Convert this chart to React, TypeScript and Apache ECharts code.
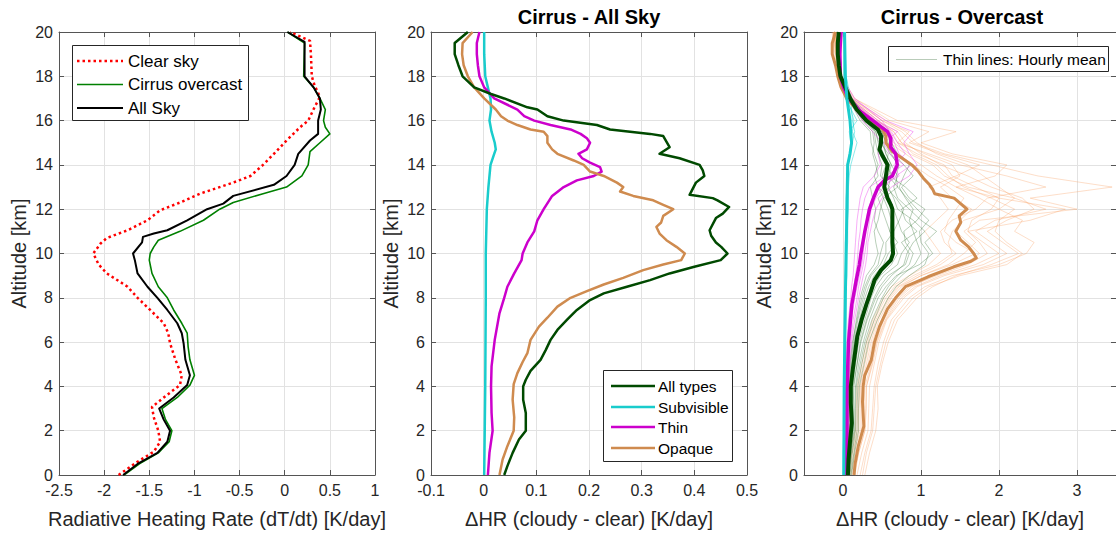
import React, { useEffect, useRef } from "react";
import * as echarts from "echarts";

// ---------- Panel 1: radiative heating rate ----------
const ALT_CLEAR = [0,0.6,1.05,1.5,2,2.6,3.07,3.5,4.06,4.5,5.2,5.95,6.4,6.85,7.45,8,8.5,9.1,9.5,10,10.45,10.7,11.05,11.5,11.95,12.3,12.7,13.2,13.5,14,14.5,15.1,15.7,16,16.6,17.07,17.6,18,19,19.6,20];
const HR_CLEAR = [-1.84,-1.63,-1.45,-1.38,-1.40,-1.45,-1.47,-1.34,-1.16,-1.14,-1.21,-1.27,-1.29,-1.34,-1.49,-1.63,-1.74,-1.97,-2.06,-2.12,-2.04,-1.97,-1.74,-1.52,-1.38,-1.16,-0.94,-0.57,-0.38,-0.24,-0.12,0.02,0.17,0.26,0.33,0.39,0.33,0.30,0.29,0.28,0.06];
const ALT_OVC = [0,0.5,1,1.5,2,2.5,3,3.5,4.06,4.5,5.2,5.8,6.4,6.85,7.45,8,8.5,9.1,9.7,10,10.3,10.6,11,11.5,12,12.3,12.7,13,13.5,14,14.6,15,15.4,15.7,16,16.5,17,17.5,18,19.5,20];
const HR_OVC = [-1.78,-1.61,-1.40,-1.28,-1.25,-1.32,-1.36,-1.19,-1.05,-1.00,-1.05,-1.07,-1.08,-1.14,-1.23,-1.30,-1.40,-1.47,-1.50,-1.49,-1.45,-1.40,-1.16,-0.90,-0.72,-0.57,-0.24,0.02,0.19,0.26,0.28,0.39,0.50,0.45,0.43,0.45,0.39,0.32,0.21,0.22,0.03];
const ALT_ALL = [0,0.5,1,1.5,2,2.5,3,3.5,4.06,4.5,5.2,5.95,6.4,6.85,7.45,8,8.5,9.1,9.7,10,10.5,10.75,10.9,11.05,11.5,12,12.25,12.6,13.1,13.5,14,14.5,15.1,15.4,16,16.5,17,17.5,18,19.55,20];
const HR_ALL = [-1.79,-1.63,-1.41,-1.30,-1.27,-1.34,-1.39,-1.23,-1.08,-1.05,-1.10,-1.12,-1.14,-1.19,-1.30,-1.41,-1.52,-1.63,-1.66,-1.68,-1.58,-1.57,-1.45,-1.30,-1.08,-0.86,-0.68,-0.57,-0.12,0.02,0.11,0.15,0.28,0.37,0.37,0.40,0.39,0.32,0.22,0.22,0.03];

// ---------- Panel 2: Cirrus - All Sky ----------
const ALT_AS_ALL = [0,0.4,1,1.6,2,2.8,3.4,4,4.3,4.7,5.2,5.65,6.1,6.55,7,7.45,7.9,8.2,8.5,8.8,9.1,9.4,9.7,10,10.3,10.5,10.8,11.05,11.6,11.8,12.1,12.4,12.5,12.65,13.2,13.5,13.75,14,14.3,14.5,14.8,15.3,15.4,15.6,15.8,16,16.2,16.5,16.6,17,17.2,17.5,18,18.5,19,19.5,20];
const AS_ALL = [0.039,0.045,0.055,0.067,0.080,0.080,0.075,0.075,0.080,0.089,0.108,0.118,0.127,0.140,0.158,0.177,0.202,0.228,0.272,0.316,0.353,0.400,0.450,0.463,0.451,0.441,0.432,0.429,0.441,0.454,0.466,0.444,0.435,0.391,0.403,0.419,0.416,0.410,0.372,0.334,0.353,0.341,0.316,0.240,0.215,0.152,0.121,0.102,0.083,0.039,0.014,-0.018,-0.040,-0.048,-0.055,-0.055,-0.030];
const ALT_AS_SUB = [0,4,8,10,12,13,14,14.5,14.7,15,15.5,16,16.5,17,17.5,18,19,20];
const AS_SUB = [0.001,0.003,0.004,0.004,0.006,0.009,0.013,0.020,0.023,0.021,0.015,0.011,0.014,0.013,0.008,0.003,0.001,0.001];
const ALT_AS_THIN = [0,1,2,2.8,4,4.9,6.1,7.3,8,8.5,9.1,9.7,10,10.5,11,11.5,12,12.6,13,13.3,13.5,13.7,13.9,14.1,14.3,14.5,14.7,15,15.2,15.4,15.6,15.8,16,16.2,16.5,17,17.5,18,18.5,19,19.5,20];
const AS_THIN = [0.008,0.011,0.017,0.015,0.014,0.015,0.021,0.030,0.039,0.045,0.058,0.072,0.074,0.083,0.096,0.102,0.114,0.130,0.152,0.177,0.209,0.224,0.221,0.202,0.187,0.180,0.196,0.202,0.196,0.184,0.165,0.127,0.096,0.077,0.064,0.020,0.001,-0.008,-0.011,-0.013,-0.013,-0.008];
const ALT_AS_OPQ = [0,0.7,1.3,2,2.6,3.4,4.1,4.6,5.1,5.5,6.1,6.7,7.1,7.6,8,8.3,8.6,8.9,9.25,9.5,9.7,10,10.3,10.6,10.9,11.2,11.4,11.7,12,12.2,12.4,12.6,12.8,13,13.2,13.5,13.7,14,14.2,14.5,14.7,15,15.3,15.5,15.6,15.8,16,16.2,16.5,17,17.5,18,18.5,19,19.5,20];
const AS_OPQ = [0.030,0.036,0.045,0.057,0.058,0.055,0.057,0.064,0.074,0.083,0.089,0.105,0.121,0.140,0.165,0.196,0.228,0.265,0.303,0.341,0.375,0.382,0.366,0.347,0.334,0.328,0.337,0.341,0.360,0.341,0.322,0.284,0.259,0.265,0.253,0.228,0.202,0.190,0.171,0.140,0.130,0.121,0.121,0.114,0.089,0.064,0.045,0.033,0.023,0.001,-0.018,-0.030,-0.038,-0.041,-0.040,-0.021];

// ---------- Panel 3: Cirrus - Overcast (means) ----------
const ALT_OC_ALL = [0,0.7,1.6,2.35,3.25,4,4.75,5.5,6.25,7,7.7,8.35,8.8,9.25,9.7,10,10.5,11,12,12.2,12.5,13,13.5,14,14.4,14.7,15,15.3,15.6,16,16.5,17,17.5,18,18.5,19,19.5,20];
const OC_ALL = [0.063,0.071,0.092,0.113,0.100,0.100,0.125,0.154,0.183,0.238,0.300,0.363,0.404,0.488,0.613,0.642,0.633,0.633,0.633,0.613,0.571,0.529,0.550,0.571,0.508,0.467,0.488,0.488,0.446,0.300,0.175,0.092,0.029,-0.033,-0.054,-0.067,-0.067,-0.054];
const ALT_OC_SUB = [0,4,8,10,12,14,14.5,15,16,17,18,20];
const OC_SUB = [0.010,0.015,0.030,0.040,0.050,0.060,0.090,0.110,0.090,0.050,0.030,0.020];
const ALT_OC_THIN = [0,1.9,3.7,6,7.7,8.8,9.5,10,11,12,12.5,13,13.3,13.5,14,14.5,14.8,15.2,15.5,16,16.5,17,17.5,18,19,20];
const OC_THIN = [0.038,0.050,0.050,0.071,0.113,0.170,0.210,0.230,0.280,0.340,0.390,0.450,0.530,0.633,0.696,0.675,0.613,0.613,0.571,0.383,0.196,0.071,0.008,-0.033,-0.042,-0.025];
const ALT_OC_OPQ = [0,0.5,1.3,2.2,3.3,4,4.5,5.2,6,6.7,7.5,8,8.5,8.95,9.4,9.65,9.8,10,10.3,10.6,11,11.4,11.7,12,12.5,12.7,12.9,13.1,13.4,13.7,14,14.2,14.6,15,15.3,15.6,16,16.5,17,17.5,18,18.5,19,19.5,20];
const OC_OPQ = [0.142,0.154,0.196,0.267,0.250,0.258,0.279,0.363,0.404,0.467,0.571,0.675,0.800,1.090,1.420,1.640,1.710,1.675,1.610,1.510,1.446,1.510,1.490,1.590,1.425,1.175,1.150,1.110,1.030,0.967,0.883,0.800,0.633,0.550,0.550,0.508,0.342,0.175,0.050,-0.025,-0.067,-0.096,-0.138,-0.138,-0.096];

// ---------- Panel 3: hourly means (thin lines) ----------
const ALT_HOURLY = [0,1,2,3,4,5,6,7,8,8.5,9,9.5,10,10.5,11,11.5,12,12.5,13,13.5,14,14.5,15,15.5,16,17,18,20];
const HOURLY_OPQ = [
  [0.28,0.34,0.42,0.45,0.44,0.50,0.58,0.70,0.95,1.15,1.45,1.90,2.25,2.05,1.85,2.10,2.45,2.30,1.90,1.60,1.25,1.00,0.80,0.70,0.45,0.10,-0.05,-0.12],
  [0.05,0.12,0.20,0.20,0.22,0.28,0.34,0.42,0.58,0.70,0.95,1.25,1.45,1.30,1.25,1.40,1.70,1.85,2.60,2.10,1.50,1.10,0.70,0.60,0.40,0.08,-0.05,-0.10],
  [0.18,0.24,0.32,0.33,0.34,0.40,0.46,0.56,0.78,0.95,1.30,1.80,2.10,1.90,1.70,1.95,2.60,2.20,1.60,1.30,1.15,0.85,0.65,0.55,0.35,0.06,-0.06,-0.12],
  [0.10,0.16,0.24,0.24,0.25,0.32,0.38,0.46,0.62,0.75,1.00,1.35,1.55,1.70,1.55,1.75,3.00,2.40,3.45,2.50,1.90,1.30,0.90,0.75,0.50,0.12,-0.04,-0.10],
  [0.02,0.08,0.16,0.17,0.18,0.24,0.30,0.38,0.52,0.62,0.85,1.10,1.25,1.15,1.05,1.20,1.35,1.25,1.10,1.45,1.75,1.25,0.85,1.10,0.60,0.15,-0.02,-0.08],
  [0.22,0.28,0.36,0.38,0.40,0.45,0.52,0.62,0.85,1.05,1.40,2.00,2.35,2.45,2.20,2.30,2.00,1.75,1.45,1.20,1.00,0.80,0.60,0.55,0.38,0.04,-0.06,-0.13],
  [0.12,0.18,0.26,0.27,0.28,0.36,0.42,0.52,0.70,0.85,1.20,1.60,1.85,1.75,1.60,2.40,2.85,2.00,1.45,1.95,2.10,1.40,1.00,1.45,0.70,0.14,-0.03,-0.10],
  [0.08,0.14,0.22,0.22,0.23,0.30,0.36,0.44,0.60,0.72,1.00,1.40,1.70,1.45,1.30,1.35,1.45,1.55,1.35,1.10,0.90,0.70,0.55,0.50,0.30,0.03,-0.07,-0.14],
  [0.15,0.20,0.28,0.30,0.30,0.38,0.44,0.55,0.75,0.92,1.25,1.70,2.00,1.80,1.60,1.65,1.90,2.00,1.70,1.40,1.30,0.95,0.70,0.85,0.50,0.10,-0.04,-0.11],
  [0.25,0.30,0.38,0.40,0.42,0.48,0.55,0.66,0.90,1.10,1.50,2.10,2.30,2.10,1.95,2.00,2.20,1.90,1.55,1.35,1.20,0.90,0.75,0.65,0.42,0.08,-0.05,-0.12],
  [0.06,0.11,0.18,0.19,0.20,0.26,0.32,0.40,0.55,0.66,0.90,1.20,1.40,1.35,1.40,1.55,2.00,2.20,2.00,1.80,1.60,1.20,0.95,0.80,0.55,0.11,-0.04,-0.09],
  [0.14,0.20,0.28,0.29,0.30,0.37,0.43,0.54,0.72,0.88,1.15,1.55,1.75,1.60,1.45,1.50,1.65,1.40,1.25,1.50,1.40,1.05,0.75,0.65,0.45,0.09,-0.05,-0.11],
];
const HOURLY_ALL = [
  [0.10,0.14,0.18,0.18,0.19,0.24,0.30,0.40,0.52,0.62,0.75,0.92,1.00,0.95,0.90,0.85,0.90,0.80,0.72,0.78,0.85,0.70,0.62,0.55,0.35,0.10,-0.02,-0.05],
  [0.03,0.05,0.07,0.06,0.06,0.09,0.12,0.18,0.24,0.28,0.34,0.45,0.48,0.52,0.45,0.40,0.42,0.38,0.35,0.45,0.42,0.38,0.40,0.38,0.25,0.08,-0.03,-0.06],
  [0.07,0.10,0.14,0.13,0.13,0.18,0.22,0.30,0.40,0.47,0.58,0.80,0.85,0.75,0.95,0.80,0.75,0.95,0.80,0.60,0.70,0.62,0.55,0.50,0.32,0.12,-0.02,-0.05],
  [0.05,0.07,0.10,0.09,0.09,0.12,0.15,0.21,0.28,0.33,0.40,0.52,0.58,0.70,0.60,0.55,0.50,0.45,0.60,0.48,0.50,0.45,0.42,0.40,0.28,0.06,-0.04,-0.06],
  [0.08,0.11,0.15,0.15,0.16,0.20,0.26,0.34,0.45,0.55,0.68,0.98,1.15,1.05,1.20,1.00,0.85,0.70,0.65,0.70,0.62,0.55,0.50,0.48,0.32,0.10,-0.02,-0.05],
  [0.04,0.06,0.09,0.08,0.08,0.11,0.14,0.19,0.26,0.30,0.36,0.48,0.55,0.55,0.65,0.72,0.78,0.68,0.55,0.50,0.55,0.58,0.48,0.45,0.30,0.09,-0.03,-0.06],
  [0.06,0.09,0.12,0.11,0.12,0.16,0.20,0.28,0.36,0.42,0.52,0.70,0.75,0.85,0.75,0.70,0.65,0.60,0.45,0.40,0.45,0.40,0.36,0.35,0.22,0.07,-0.03,-0.06],
  [0.09,0.12,0.16,0.16,0.17,0.22,0.28,0.37,0.50,0.58,0.70,0.85,0.90,0.80,0.78,0.95,1.05,0.85,0.75,0.90,0.78,0.65,0.58,0.52,0.34,0.11,-0.02,-0.05],
  [0.07,0.10,0.13,0.13,0.14,0.18,0.23,0.31,0.42,0.50,0.62,0.78,0.82,0.90,1.05,0.90,0.70,0.65,0.58,0.62,0.58,0.52,0.46,0.42,0.30,0.09,-0.03,-0.05],
  [0.05,0.08,0.11,0.10,0.11,0.14,0.18,0.25,0.33,0.39,0.48,0.62,0.70,0.65,0.60,0.62,0.58,0.52,0.70,0.58,0.62,0.55,0.52,0.46,0.30,0.08,-0.03,-0.06],
  [0.11,0.15,0.20,0.20,0.21,0.27,0.33,0.44,0.58,0.68,0.85,1.05,1.10,1.00,0.98,1.10,0.95,0.82,0.70,0.68,0.72,0.60,0.55,0.50,0.33,0.10,-0.02,-0.05],
  [0.04,0.06,0.08,0.07,0.07,0.10,0.13,0.17,0.22,0.26,0.30,0.40,0.45,0.42,0.40,0.45,0.48,0.52,0.45,0.55,0.60,0.50,0.45,0.42,0.28,0.07,-0.03,-0.06],
];
const HOURLY_THIN = [
  [0.06,0.07,0.08,0.08,0.08,0.09,0.11,0.15,0.20,0.23,0.26,0.29,0.31,0.32,0.35,0.38,0.42,0.50,0.62,0.85,0.95,0.85,0.78,0.90,0.55,0.12,-0.02,-0.03],
  [0.02,0.03,0.03,0.03,0.03,0.04,0.05,0.07,0.10,0.11,0.13,0.14,0.15,0.16,0.17,0.18,0.20,0.22,0.26,0.40,0.48,0.45,0.50,0.38,0.25,0.05,-0.04,-0.04],
  [0.04,0.05,0.06,0.06,0.06,0.07,0.08,0.11,0.15,0.18,0.21,0.24,0.26,0.27,0.28,0.30,0.32,0.38,0.46,0.72,0.65,0.80,0.70,0.62,0.45,0.09,-0.03,-0.03],
  [0.03,0.04,0.04,0.04,0.04,0.05,0.06,0.08,0.12,0.14,0.16,0.18,0.19,0.20,0.22,0.23,0.25,0.28,0.34,0.55,0.78,0.60,0.52,0.70,0.42,0.08,-0.03,-0.04],
  [0.05,0.06,0.07,0.07,0.07,0.08,0.10,0.13,0.18,0.20,0.23,0.26,0.28,0.30,0.32,0.34,0.36,0.42,0.52,0.68,0.88,0.72,0.66,0.60,0.50,0.15,-0.02,-0.03],
];
const HOURLY_SUB = [
  [0.00,0.00,0.01,0.01,0.01,0.01,0.02,0.02,0.02,0.03,0.03,0.03,0.03,0.03,0.04,0.04,0.04,0.04,0.05,0.05,0.06,0.08,0.12,0.15,0.12,0.10,0.04,0.02],
  [0.02,0.02,0.02,0.02,0.03,0.03,0.03,0.04,0.04,0.04,0.05,0.05,0.05,0.06,0.06,0.06,0.07,0.07,0.07,0.08,0.10,0.14,0.18,0.12,0.14,0.06,0.03,0.03],
  [0.01,0.01,0.01,0.01,0.02,0.02,0.02,0.02,0.03,0.03,0.03,0.04,0.04,0.04,0.04,0.05,0.05,0.05,0.06,0.06,0.05,0.09,0.10,0.08,0.18,0.03,0.01,0.01],
];

const P3_TICKS = [0, 1, 2, 3];

const FONT = "'Liberation Sans', Arial, Helvetica, sans-serif";
const AX = "#262626";
const AXLINE = "#555555";
const GRIDC = "#e2e2e2";

const C_ALL = "#004a00";
const C_SUB = "#19cccc";
const C_THIN = "#cc00cc";
const C_OPQ = "#cf8b4f";

const zip = (xs: number[], ys: number[]) => xs.map((x, i) => [x, ys[i]]);

function xAxes(gi: number, min: number, max: number, interval: number | undefined, name: string, custom?: number[]) {
  const base: any = { type: "value", gridIndex: gi, min, max };
  if (interval !== undefined) base.interval = interval;
  const tick: any = { show: true, inside: true, length: 5, lineStyle: { color: AXLINE, width: 1 } };
  if (custom) tick.customValues = custom;
  const label: any = { show: true, color: AX, fontSize: 16, fontFamily: FONT, margin: 7 };
  if (custom) label.customValues = custom;
  const line = { show: true, onZero: false, lineStyle: { color: AXLINE, width: 1 } };
  return [
    {
      ...base, position: "bottom", name, nameLocation: "middle", nameGap: 34,
      nameTextStyle: { fontSize: 20, color: AX, fontFamily: FONT },
      axisLine: line, axisTick: tick, axisLabel: label,
      splitLine: { show: true, lineStyle: { color: GRIDC, width: 1 } },
    },
    {
      ...base, position: "top", axisLine: line, axisTick: tick,
      axisLabel: { show: false }, splitLine: { show: false },
    },
  ];
}

function yAxes(gi: number) {
  const base: any = { type: "value", gridIndex: gi, min: 0, max: 20, interval: 2 };
  const tick = { show: true, inside: true, length: 5, lineStyle: { color: AXLINE, width: 1 } };
  const line = { show: true, onZero: false, lineStyle: { color: AXLINE, width: 1 } };
  return [
    {
      ...base, position: "left", name: "Altitude [km]", nameLocation: "middle", nameGap: 30,
      nameTextStyle: { fontSize: 20, color: AX, fontFamily: FONT },
      axisLine: line, axisTick: tick,
      axisLabel: { show: true, color: AX, fontSize: 16, fontFamily: FONT, margin: 6 },
      splitLine: { show: true, lineStyle: { color: GRIDC, width: 1 } },
    },
    {
      ...base, position: "right", axisLine: line, axisTick: tick,
      axisLabel: { show: false }, splitLine: { show: false },
    },
  ];
}

function line(ai: number, data: number[][], color: string, width: number, z: number, dash?: any) {
  return {
    type: "line", xAxisIndex: ai, yAxisIndex: ai, data, showSymbol: false, symbol: "none",
    silent: true, z, clip: true,
    lineStyle: { color, width, type: dash || "solid", cap: "butt", join: "round" },
    emphasis: { disabled: true },
  };
}

function legendItem(x1: number, x2: number, y: number, color: string, width: number, label: string, tx: number, fs: number, dash?: number[]) {
  return [
    { type: "line", z: 101, shape: { x1, y1: y, x2, y2: y }, style: { stroke: color, lineWidth: width, lineDash: dash } },
    { type: "text", z: 101, x: tx, y, style: { text: label, fontSize: fs, fontFamily: FONT, fill: "#000", align: "left", verticalAlign: "middle" } },
  ];
}

export default function App() {
  const ref = useRef<HTMLDivElement>(null);
  useEffect(() => {
    if (!ref.current) return;
    const chart = echarts.init(ref.current, undefined, { renderer: "svg" });

    const series: any[] = [];
    // Panel 1
    series.push(line(0, zip(HR_CLEAR, ALT_CLEAR), "#ff0000", 2.5, 3, [2.5, 3]));
    series.push(line(0, zip(HR_OVC, ALT_OVC), "#008000", 1.6, 4));
    series.push(line(0, zip(HR_ALL, ALT_ALL), "#000000", 2, 5));
    // Panel 2
    series.push(line(2, zip(AS_SUB, ALT_AS_SUB), C_SUB, 2.5, 3));
    series.push(line(2, zip(AS_THIN, ALT_AS_THIN), C_THIN, 2.5, 4));
    series.push(line(2, zip(AS_OPQ, ALT_AS_OPQ), C_OPQ, 2.5, 5));
    series.push(line(2, zip(AS_ALL, ALT_AS_ALL), C_ALL, 2.5, 6));
    // Panel 3 thin hourly lines
    HOURLY_OPQ.forEach((v) => series.push(line(4, zip(v, ALT_HOURLY), "rgba(248,160,100,0.35)", 1, 2)));
    HOURLY_ALL.forEach((v) => series.push(line(4, zip(v, ALT_HOURLY), "rgba(30,100,30,0.35)", 0.9, 2)));
    HOURLY_THIN.forEach((v) => series.push(line(4, zip(v, ALT_HOURLY), "rgba(235,60,235,0.42)", 1, 2)));
    HOURLY_SUB.forEach((v) => series.push(line(4, zip(v, ALT_HOURLY), "rgba(0,210,210,0.45)", 1, 2)));
    // Panel 3 thick means
    series.push(line(4, zip(OC_OPQ, ALT_OC_OPQ), C_OPQ, 3, 5));
    series.push(line(4, zip(OC_THIN, ALT_OC_THIN), C_THIN, 3.5, 6));
    series.push(line(4, zip(OC_ALL, ALT_OC_ALL), C_ALL, 4, 7));
    series.push(line(4, zip(OC_SUB, ALT_OC_SUB), C_SUB, 3, 8));

    const graphic: any[] = [
      { type: "text", z: 101, x: 589, y: 17, style: { text: "Cirrus - All Sky", fontSize: 20, fontWeight: "bold", fontFamily: FONT, fill: "#000", align: "center", verticalAlign: "middle" } },
      { type: "text", z: 101, x: 962, y: 17, style: { text: "Cirrus - Overcast", fontSize: 20, fontWeight: "bold", fontFamily: FONT, fill: "#000", align: "center", verticalAlign: "middle" } },
      // legend 1
      { type: "rect", z: 100, shape: { x: 72.5, y: 45.5, width: 176, height: 75 }, style: { fill: "#fff", stroke: AX, lineWidth: 1 } },
      ...legendItem(77, 123, 61, "#ff0000", 2.5, "Clear sky", 128, 17, [2.5, 3]),
      ...legendItem(77, 123, 84.5, "#008000", 1.6, "Cirrus overcast", 128, 17),
      ...legendItem(77, 123, 108, "#000000", 2, "All Sky", 128, 17),
      // legend 2
      { type: "rect", z: 100, shape: { x: 603.5, y: 370.5, width: 129, height: 91 }, style: { fill: "#fff", stroke: AX, lineWidth: 1 } },
      ...legendItem(611, 655, 386, C_ALL, 2.5, "All types", 658, 15.5),
      ...legendItem(611, 655, 407, C_SUB, 2.5, "Subvisible", 658, 15.5),
      ...legendItem(611, 655, 427, C_THIN, 2.5, "Thin", 658, 15.5),
      ...legendItem(611, 655, 448, C_OPQ, 2.5, "Opaque", 658, 15.5),
      // legend 3
      { type: "rect", z: 100, shape: { x: 888.5, y: 46.5, width: 220, height: 25 }, style: { fill: "#fff", stroke: AX, lineWidth: 1 } },
      ...legendItem(896, 937, 59.5, "#b9ccb9", 1, "Thin lines: Hourly mean", 943, 15.5),
    ];

    chart.setOption({
      animation: false,
      backgroundColor: "#ffffff",
      textStyle: { fontFamily: FONT },
      grid: [
        { left: 59, top: 32, width: 316, height: 443 },
        { left: 431, top: 32, width: 316, height: 443 },
        { left: 804, top: 32, width: 317, height: 443 },
      ],
      xAxis: [
        ...xAxes(0, -2.5, 1, 0.5, "Radiative Heating Rate (dT/dt) [K/day]"),
        ...xAxes(1, -0.1, 0.5, 0.1, "\u0394HR (cloudy - clear) [K/day]"),
        ...xAxes(2, -0.5, 3.5, undefined, "\u0394HR (cloudy - clear) [K/day]", P3_TICKS),
      ],
      yAxis: [...yAxes(0), ...yAxes(1), ...yAxes(2)],
      series,
      graphic,
    });
    return () => chart.dispose();
  }, []);
  return (
    <div
      ref={ref}
      style={{ position: "absolute", left: 0, top: 0, width: 1116, height: 534, background: "#fff" }}
    />
  );
}
